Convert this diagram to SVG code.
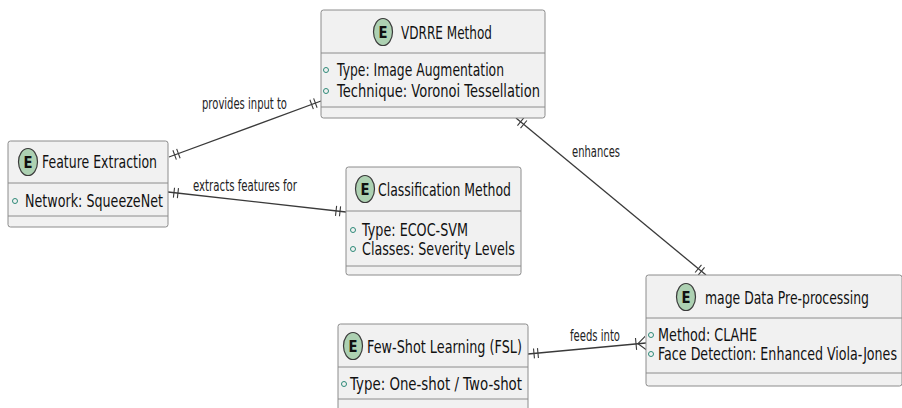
<svg xmlns="http://www.w3.org/2000/svg" width="902" height="408" viewBox="0 0 902 408">
  <style>
    .box { fill: #F1F1F1; stroke: #8C8C8C; stroke-width: 1; }
    .sep { stroke: #8C8C8C; stroke-width: 1; }
    .badge { fill: #ADD1B2; stroke: #3A3A3A; stroke-width: 1.2; }
    .badge-t { font-family: "DejaVu Sans", sans-serif; font-weight: bold; font-size: 16px; fill: #111; text-anchor: middle; }
    .title { font-family: "DejaVu Sans", sans-serif; font-size: 18px; fill: #111; }
    .attr { font-family: "DejaVu Sans", sans-serif; font-size: 17px; fill: #111; }
    .dot { fill: none; stroke: #2E8A78; stroke-width: 1; }
    .edge { fill: none; stroke: #3A3A3A; stroke-width: 1.3; }
    .lbl { font-family: "DejaVu Sans", sans-serif; font-size: 15px; fill: #222; }
    .mk { fill: none; stroke: #3A3A3A; stroke-width: 1.1; }
  </style>
  <defs>
    <!-- exactly one -->
    <marker id="one" markerUnits="userSpaceOnUse" markerWidth="12" markerHeight="12" viewBox="0 0 12 12" refX="12" refY="6" orient="auto-start-reverse">
      <path class="mk" d="M2,1 V11 M6,1 V11"/>
    </marker>
    <!-- one or many -->
    <marker id="many" markerUnits="userSpaceOnUse" markerWidth="14" markerHeight="16" viewBox="0 0 14 16" refX="14" refY="8" orient="auto">
      <path class="mk" d="M6,8 L14,1 M6,8 L14,15 M4,2 V14"/>
    </marker>
  </defs>

  <rect width="902" height="408" fill="#FFFFFF"/>

  <g id="connectors">
    <path class="edge" d="M169,157 L321,101" marker-start="url(#one)" marker-end="url(#one)"/>
    <text class="lbl" x="202" y="109" textLength="85" lengthAdjust="spacingAndGlyphs">provides input to</text>

    <path class="edge" d="M168,192 L346,212" marker-start="url(#one)" marker-end="url(#one)"/>
    <text class="lbl" x="193" y="191" textLength="104" lengthAdjust="spacingAndGlyphs">extracts features for</text>

    <path class="edge" d="M516,118 L706,275" marker-start="url(#one)" marker-end="url(#one)"/>
    <text class="lbl" x="572" y="157" textLength="48" lengthAdjust="spacingAndGlyphs">enhances</text>

    <path class="edge" d="M528,354 L646,343" marker-start="url(#one)" marker-end="url(#many)"/>
    <text class="lbl" x="570" y="341" textLength="50" lengthAdjust="spacingAndGlyphs">feeds into</text>
  </g>

  <g id="vdrre-method">
    <rect class="box" x="321" y="10" width="224" height="108" rx="2.5"/>
    <line class="sep" x1="321" y1="53" x2="545" y2="53"/>
    <line class="sep" x1="321" y1="107" x2="545" y2="107"/>
    <ellipse class="badge" cx="383" cy="32" rx="9.5" ry="13.5"/>
    <text class="badge-t" x="383" y="38" textLength="9" lengthAdjust="spacingAndGlyphs">E</text>
    <text class="title" x="401" y="39" textLength="91" lengthAdjust="spacingAndGlyphs">VDRRE Method</text>
    <circle class="dot" cx="326" cy="70" r="2.5"/>
    <text class="attr" x="337" y="76" textLength="167" lengthAdjust="spacingAndGlyphs">Type: Image Augmentation</text>
    <circle class="dot" cx="326" cy="91" r="2.5"/>
    <text class="attr" x="337" y="97" textLength="203" lengthAdjust="spacingAndGlyphs">Technique: Voronoi Tessellation</text>
  </g>

  <g id="feature-extraction">
    <rect class="box" x="8" y="141" width="160" height="86" rx="2.5"/>
    <line class="sep" x1="8" y1="183" x2="168" y2="183"/>
    <line class="sep" x1="8" y1="216" x2="168" y2="216"/>
    <ellipse class="badge" cx="28" cy="162" rx="9.5" ry="13.5"/>
    <text class="badge-t" x="28" y="168" textLength="9" lengthAdjust="spacingAndGlyphs">E</text>
    <text class="title" x="42" y="168" textLength="115" lengthAdjust="spacingAndGlyphs">Feature Extraction</text>
    <circle class="dot" cx="15" cy="201" r="2.5"/>
    <text class="attr" x="25" y="207" textLength="138" lengthAdjust="spacingAndGlyphs">Network: SqueezeNet</text>
  </g>

  <g id="classification-method">
    <rect class="box" x="346" y="167" width="175" height="108" rx="2.5"/>
    <line class="sep" x1="346" y1="211" x2="521" y2="211"/>
    <line class="sep" x1="346" y1="266" x2="521" y2="266"/>
    <ellipse class="badge" cx="365" cy="189" rx="9.5" ry="13.5"/>
    <text class="badge-t" x="365" y="195" textLength="9" lengthAdjust="spacingAndGlyphs">E</text>
    <text class="title" x="378" y="196" textLength="133" lengthAdjust="spacingAndGlyphs">Classification Method</text>
    <circle class="dot" cx="353" cy="230" r="2.5"/>
    <text class="attr" x="362" y="236" textLength="106" lengthAdjust="spacingAndGlyphs">Type: ECOC-SVM</text>
    <circle class="dot" cx="353" cy="249" r="2.5"/>
    <text class="attr" x="362" y="255" textLength="153" lengthAdjust="spacingAndGlyphs">Classes: Severity Levels</text>
  </g>

  <g id="few-shot-learning">
    <rect class="box" x="338" y="324" width="190" height="96" rx="2.5"/>
    <line class="sep" x1="338" y1="367" x2="528" y2="367"/>
    <line class="sep" x1="338" y1="399" x2="528" y2="399"/>
    <ellipse class="badge" cx="353" cy="346" rx="9.5" ry="13.5"/>
    <text class="badge-t" x="353" y="352" textLength="9" lengthAdjust="spacingAndGlyphs">E</text>
    <text class="title" x="367" y="353" textLength="155" lengthAdjust="spacingAndGlyphs">Few-Shot Learning (FSL)</text>
    <circle class="dot" cx="344" cy="384" r="2.5"/>
    <text class="attr" x="350" y="390" textLength="172" lengthAdjust="spacingAndGlyphs">Type: One-shot / Two-shot</text>
  </g>

  <g id="image-data-preprocessing">
    <rect class="box" x="646" y="275" width="256" height="111" rx="2.5"/>
    <line class="sep" x1="646" y1="318" x2="902" y2="318"/>
    <line class="sep" x1="646" y1="373" x2="902" y2="373"/>
    <ellipse class="badge" cx="686" cy="297" rx="9.5" ry="13.5"/>
    <text class="badge-t" x="686" y="303" textLength="9" lengthAdjust="spacingAndGlyphs">E</text>
    <text class="title" x="705" y="304" textLength="164" lengthAdjust="spacingAndGlyphs">mage Data Pre-processing</text>
    <circle class="dot" cx="651" cy="335" r="2.5"/>
    <text class="attr" x="658" y="341" textLength="99" lengthAdjust="spacingAndGlyphs">Method: CLAHE</text>
    <circle class="dot" cx="651" cy="354" r="2.5"/>
    <text class="attr" x="658" y="360" textLength="239" lengthAdjust="spacingAndGlyphs">Face Detection: Enhanced Viola-Jones</text>
  </g>
</svg>
